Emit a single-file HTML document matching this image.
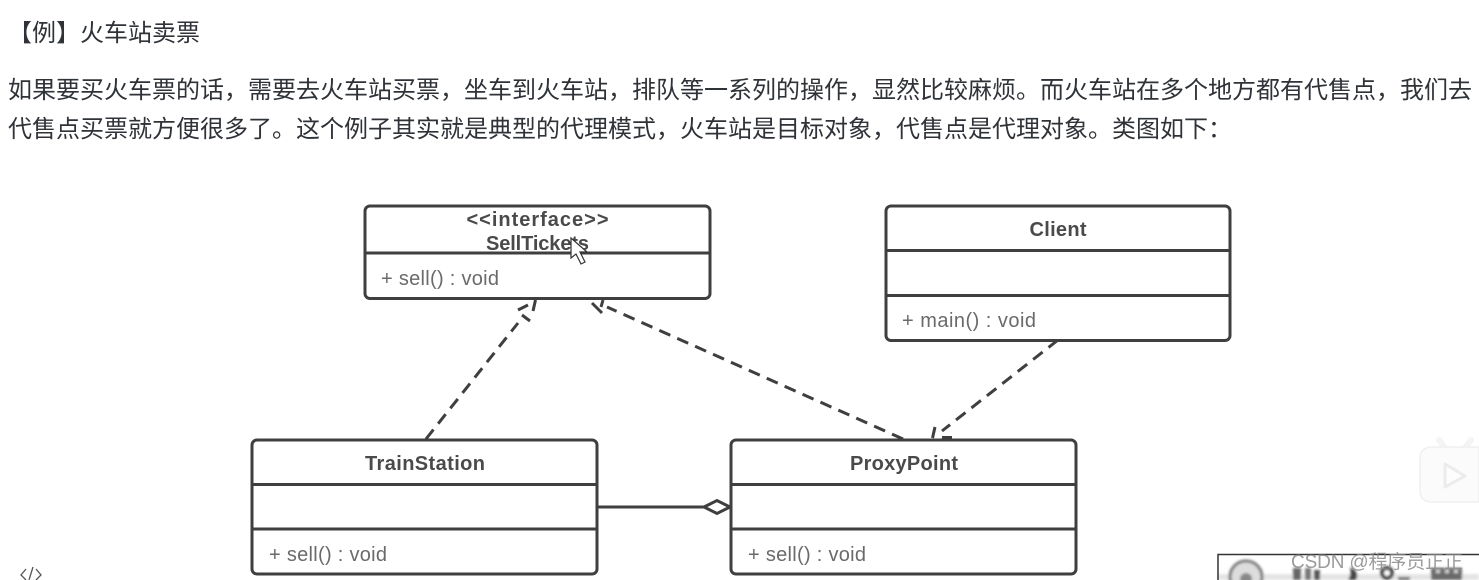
<!DOCTYPE html>
<html><head><meta charset="utf-8">
<style>
html,body{margin:0;padding:0;background:#fff;width:1479px;height:580px;overflow:hidden}
svg{display:block}
.cn{font-family:"Liberation Sans","Noto Sans CJK SC",sans-serif;font-size:24px;fill:#2f3338}
.b{font-family:"Liberation Sans",sans-serif;font-weight:bold;font-size:20px;fill:#4a4a4a;text-anchor:middle}
.m{font-family:"Liberation Sans",sans-serif;font-size:20px;fill:#6a6a6a}
.box{fill:#fff;stroke:#3f3f3f;stroke-width:3}
.l{stroke:#3f3f3f;stroke-width:3;fill:none}
.d{stroke:#3f3f3f;stroke-width:3;fill:none;stroke-dasharray:12 7.6}
</style></head><body>
<svg width="1479" height="580" viewBox="0 0 1479 580" xmlns="http://www.w3.org/2000/svg">
<defs>
<filter id="bl" x="-10%" y="-30%" width="120%" height="160%"><feGaussianBlur stdDeviation="1.3"/></filter>
</defs>
<text class="cn" x="8" y="41">【例】火车站卖票</text>
<text class="cn" x="8" y="98" textLength="1464">如果要买火车票的话，需要去火车站买票，坐车到火车站，排队等一系列的操作，显然比较麻烦。而火车站在多个地方都有代售点，我们去</text>
<text class="cn" x="8" y="137">代售点买票就方便很多了。这个例子其实就是典型的代理模式，火车站是目标对象，代售点是代理对象。类图如下：</text>

<!-- connectors -->
<path class="d" d="M426 439 L518 323"/>
<path class="d" d="M903 439 L607 307"/>
<path class="d" d="M1058 340 L942 431"/>
<!-- arrowheads -->
<path class="l" d="M535.500 300 L533 311 M528 305 L518 310 M522 315 L530 321"/>
<path class="l" d="M603 300 L601 307 M592 303 L602 313"/>
<path class="l" d="M935 427 L932.500 438 M942 437.500 L952 437.500" />
<path class="l" d="M598 507 H704"/>
<path d="M704 507 L717 500.5 L730 507 L717 513.5 Z" fill="#fff" stroke="#3f3f3f" stroke-width="3"/>

<!-- SellTickets -->
<rect class="box" x="365" y="206" width="345" height="92.5" rx="5"/>
<path class="l" d="M365 253 H710"/>
<text class="b" x="537.5" y="226" textLength="142">&lt;&lt;interface&gt;&gt;</text>
<text class="b" x="537.5" y="250" textLength="103">SellTickets</text>
<text class="m" x="381" y="285" textLength="118">+ sell() : void</text>

<!-- cursor -->
<path d="M571 238 V258 L576 254 L581 264 L585 262 L580 252 L587 252 Z" fill="#fff" stroke="#333" stroke-width="1.2"/>

<!-- Client -->
<rect class="box" x="886" y="206" width="344" height="134.5" rx="5"/>
<path class="l" d="M886 250.5 H1230 M886 295.5 H1230"/>
<text class="b" x="1058" y="236" textLength="57">Client</text>
<text class="m" x="902" y="327" textLength="134">+ main() : void</text>

<!-- TrainStation -->
<rect class="box" x="252" y="440" width="345" height="134" rx="5"/>
<path class="l" d="M252 484.5 H597 M252 529 H597"/>
<text class="b" x="425" y="470" textLength="120">TrainStation</text>
<text class="m" x="269" y="561" textLength="118">+ sell() : void</text>

<!-- ProxyPoint -->
<rect class="box" x="731" y="440" width="345" height="134" rx="5"/>
<path class="l" d="M731 484.5 H1076 M731 529 H1076"/>
<text class="b" x="904" y="470" textLength="108">ProxyPoint</text>
<text class="m" x="748" y="561" textLength="118">+ sell() : void</text>

<!-- code icon -->
<path d="M26 569 L21 575 L26 580 M36 569 L41 575 L36 580 M33 567 L29 580" stroke="#555" stroke-width="1.3" fill="none"/>

<!-- TV icon -->
<path d="M1439 440 L1446 449 M1471 440 L1464 449" stroke="#f4f4f4" stroke-width="6" stroke-linecap="round"/>
<path d="M1479 447 H1432 Q1420 447 1420 459 V490 Q1420 502 1432 502 H1479 Z" fill="#fbfbfb" stroke="#f0f0f0" stroke-width="1.500"/>
<path d="M1445 464 L1465 476 L1445 487 Z" fill="#fdfdfd" stroke="#ececec" stroke-width="3" stroke-linejoin="round"/>

<!-- bottom right image -->
<g filter="url(#bl)">
<rect x="1218" y="574" width="261" height="6" fill="#e4e4e4"/>
<circle cx="1246" cy="577" r="16" fill="#ddd" stroke="#777" stroke-width="3"/>
<circle cx="1246" cy="579" r="6" fill="#888"/>
<rect x="1293" y="568" width="8" height="12" fill="#666"/>
<rect x="1305" y="568" width="6" height="12" fill="#777"/>
<rect x="1314" y="570" width="6" height="10" fill="#555"/>
<path d="M1350 567 Q1360 572 1356 580 H1348 Q1352 574 1350 567 Z" fill="#444"/>
<circle cx="1387" cy="573" r="5" fill="#fff" stroke="#444" stroke-width="4"/>
<rect x="1398" y="577" width="12" height="3" fill="#666"/>
<rect x="1431" y="568" width="31" height="12" fill="#6a6a6a"/>
<rect x="1436" y="570" width="4" height="3" fill="#ddd"/>
<rect x="1445" y="570" width="4" height="3" fill="#ddd"/>
<rect x="1454" y="570" width="4" height="3" fill="#ddd"/>
</g>
<path d="M1218 580 V554.5 H1479" stroke="#333" stroke-width="1.5" fill="none"/>
<text x="1291" y="568" font-family="'Liberation Sans','Noto Sans CJK SC',sans-serif" font-size="19" fill="#8a8a8a" fill-opacity=".85" textLength="172">CSDN @程序员正正</text>
</svg>
</body></html>
